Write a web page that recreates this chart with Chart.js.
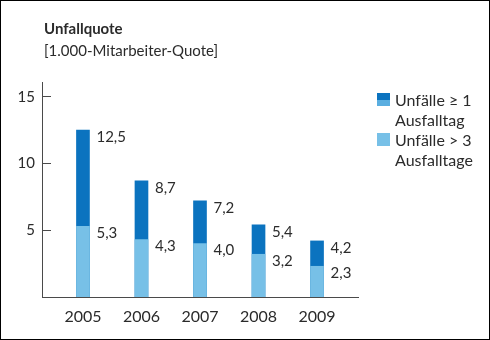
<!DOCTYPE html>
<html>
<head>
<meta charset="utf-8">
<title>Unfallquote</title>
<script src="https://cdn.jsdelivr.net/npm/chart.js@4/dist/chart.umd.min.js"></script>
<style>
    html, body { margin: 0; padding: 0; background: #fff; }
    #wrap { width: 490px; height: 340px; position: relative; }
</style>
</head>
<body>
<div id="wrap"><canvas id="unfallChart"></canvas></div>
<script>
const years = [2005, 2006, 2007, 2008, 2009];
const unfaelleAb1 = [12.5, 8.7, 7.2, 5.4, 4.2];
const unfaelleUeber3 = [5.3, 4.3, 4.0, 3.2, 2.3];
const yTicks = [5, 10, 15];

const labelAb1 = ["Unfälle \u2265 1", "Ausfalltag"];
const labelUeber3 = ["Unfälle > 3", "Ausfalltage"];

const darkBlue = "#0b73bf";
const lightBlue = "#77c0e7";
const textColor = "#2b2b2b";
const axisColor = "#4a4a4a";
const fontName = "Lato, 'Open Sans', sans-serif";

function fmt(v) {
    return v.toFixed(1).replace(".", ",");
}

function points(values) {
    return values.map((v, i) => ({ x: years[i], y: v }));
}

// frame, title and the two-line legend entries
const decorations = {
    id: "decorations",
    afterDraw(chart) {
        const ctx = chart.ctx;
        ctx.save();

        ctx.strokeStyle = "#000";
        ctx.lineWidth = 1;
        ctx.strokeRect(0.5, 0.5, chart.width - 1, chart.height - 1);

        ctx.fillStyle = textColor;
        ctx.textAlign = "left";
        ctx.textBaseline = "alphabetic";
        ctx.font = `bold 15px ${fontName}`;
        ctx.fillText("Unfallquote", 44, 34);
        ctx.font = `15px ${fontName}`;
        ctx.fillText("[1.000-Mitarbeiter-Quote]", 44, 56);

        let entries = [
            { color: darkBlue, lines: labelAb1, top: 93, split: true },
            { color: lightBlue, lines: labelUeber3, top: 133, split: false }
        ];
        ctx.font = `16px ${fontName}`;
        entries.forEach(e => {
            ctx.fillStyle = e.color;
            ctx.fillRect(377, e.top, 13, 13);
            if (e.split) {
                // the ≥1 swatch shows a light lower part, like a small stacked bar
                ctx.fillStyle = "#5aaee0";
                ctx.fillRect(377, e.top + 7, 13, 6);
            }
            ctx.fillStyle = textColor;
            e.lines.forEach((line, i) => {
                ctx.fillText(line, 395, e.top + 13 + i * 19.5);
            });
        });

        ctx.restore();
    }
};

// value next to the top of each bar
const valueLabels = {
    id: "valueLabels",
    afterDatasetsDraw(chart) {
        const ctx = chart.ctx;
        ctx.save();
        ctx.font = `15px ${fontName}`;
        ctx.fillStyle = textColor;
        ctx.textAlign = "left";
        ctx.textBaseline = "middle";
        chart.data.datasets.forEach((ds, di) => {
            chart.getDatasetMeta(di).data.forEach((bar, i) => {
                ctx.fillText(fmt(ds.data[i].y), bar.x + bar.width / 2 + 7, bar.y + 7);
            });
        });
        ctx.restore();
    }
};

new Chart(document.getElementById("unfallChart"), {
    type: "bar",
    data: {
        datasets: [{
                label: labelUeber3.join(" "),
                data: points(unfaelleUeber3),
                backgroundColor: lightBlue,
                barThickness: 13,
                grouped: false,
                order: 0
            }, {
                label: labelAb1.join(" "),
                data: points(unfaelleAb1),
                backgroundColor: darkBlue,
                barThickness: 13,
                grouped: false,
                order: 1
            }]
    },
    options: {
        responsive: true,
        maintainAspectRatio: false,
        animation: false,
        layout: {
            padding: { left: 0, top: 82, right: 132, bottom: 0 }
        },
        plugins: {
            legend: { display: false },
            tooltip: { enabled: false }
        },
        scales: {
            x: {
                type: "linear",
                offset: false,
                min: 2004.3,
                max: 2009.7,
                grid: { display: false, drawTicks: false, offset: false },
                border: { display: true, color: axisColor, width: 1 },
                ticks: {
                    stepSize: 1,
                    includeBounds: false,
                    padding: 10,
                    color: textColor,
                    font: { family: fontName, size: 16 },
                    callback: v => String(v)
                },
                afterFit(scale) {
                    scale.height = 43;
                }
            },
            y: {
                min: 0,
                max: 16.1,
                grid: {
                    drawOnChartArea: false,
                    drawTicks: true,
                    tickLength: -9,
                    color: axisColor
                },
                border: { display: true, color: axisColor, width: 1 },
                ticks: {
                    padding: 16,
                    color: textColor,
                    font: { family: fontName, size: 15 }
                },
                afterBuildTicks(scale) {
                    scale.ticks = yTicks.map(v => ({ value: v }));
                },
                afterFit(scale) {
                    scale.width = 42;
                }
            }
        }
    },
    plugins: [valueLabels, decorations]
});
</script>
</body>
</html>
